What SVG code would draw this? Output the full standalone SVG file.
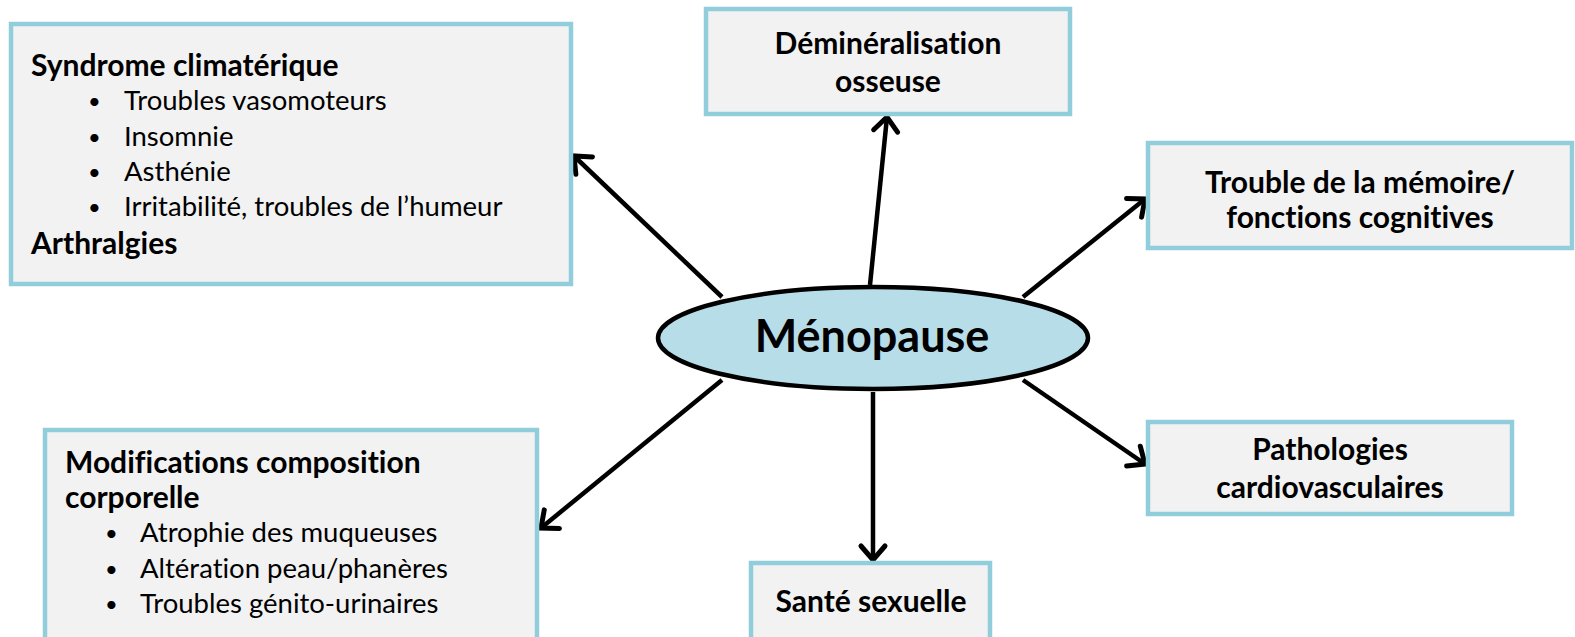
<svg xmlns="http://www.w3.org/2000/svg" width="1575" height="637" viewBox="0 0 1575 637">
<style>
.box{fill:#f2f2f2;stroke:#92cddc;stroke-width:4.5}
.t{font-family:Lato,"Liberation Sans",sans-serif;fill:#000;font-size:27.5px;font-variant-ligatures:none}
.b{font-weight:bold;font-size:30px}
.c{text-anchor:middle}
.bu{font-size:22px}
.con{stroke:#000;stroke-width:4.5;fill:none}
</style>
<defs>
<marker id="ah" markerUnits="userSpaceOnUse" markerWidth="40" markerHeight="40" viewBox="-20 -20 40 40" refX="0" refY="0" orient="auto">
<path d="M-14,-12 L0,0 L-14,12" fill="none" stroke="#000" stroke-width="5" stroke-linecap="round" stroke-linejoin="miter"/>
</marker>
</defs>
<rect width="1575" height="637" fill="#fff"/>
<g id="connectors">
<line class="con" x1="722" y1="297" x2="574" y2="156" marker-end="url(#ah)"/>
<line class="con" x1="870" y1="285" x2="887" y2="117" marker-end="url(#ah)"/>
<line class="con" x1="1023" y1="297" x2="1145" y2="199" marker-end="url(#ah)"/>
<line class="con" x1="1023" y1="380" x2="1145" y2="464" marker-end="url(#ah)"/>
<line class="con" x1="873" y1="392" x2="873" y2="560" marker-end="url(#ah)"/>
<line class="con" x1="722" y1="380" x2="541" y2="528" marker-end="url(#ah)"/>
</g>
<g id="syndrome">
<rect class="box" x="11" y="24" width="560" height="260"/>
<text class="t b" x="31" y="76">Syndrome climatérique</text>
<text class="t bu" x="88" y="109">•</text><text class="t" x="124" y="110">Troubles vasomoteurs</text>
<text class="t bu" x="88" y="145">•</text><text class="t" x="124" y="146">Insomnie</text>
<text class="t bu" x="88" y="180">•</text><text class="t" x="124" y="181">Asthénie</text>
<text class="t bu" x="88" y="215">•</text><text class="t" x="124" y="216">Irritabilité, troubles de l’humeur</text>
<text class="t b" x="31" y="254">Arthralgies</text>
</g>
<g id="demineralisation">
<rect class="box" x="706" y="9" width="364" height="105"/>
<text class="t b c" x="888" y="54">Déminéralisation</text>
<text class="t b c" x="888" y="92">osseuse</text>
</g>
<g id="memoire">
<rect class="box" x="1148" y="143" width="424" height="105"/>
<text class="t b c" x="1360" y="193">Trouble de la mémoire/</text>
<text class="t b c" x="1360" y="228">fonctions cognitives</text>
</g>
<g id="cardio">
<rect class="box" x="1148" y="422" width="364" height="92"/>
<text class="t b c" x="1330" y="460">Pathologies</text>
<text class="t b c" x="1330" y="498">cardiovasculaires</text>
</g>
<g id="sante">
<rect class="box" x="751" y="563" width="239" height="90"/>
<text class="t b c" x="871" y="612">Santé sexuelle</text>
</g>
<g id="modifications">
<rect class="box" x="45" y="430" width="492" height="230"/>
<text class="t b" x="65" y="473">Modifications composition</text>
<text class="t b" x="65" y="508">corporelle</text>
<text class="t bu" x="105" y="541">•</text><text class="t" x="140" y="542">Atrophie des muqueuses</text>
<text class="t bu" x="105" y="577">•</text><text class="t" x="140" y="578">Altération peau/phanères</text>
<text class="t bu" x="105" y="612">•</text><text class="t" x="140" y="613">Troubles génito-urinaires</text>
</g>
<g id="menopause">
<ellipse cx="873" cy="338" rx="215" ry="51" fill="#b7dde8" stroke="#000" stroke-width="4.5"/>
<text class="t b c" x="872" y="352" style="font-size:45px">Ménopause</text>
</g>
</svg>
